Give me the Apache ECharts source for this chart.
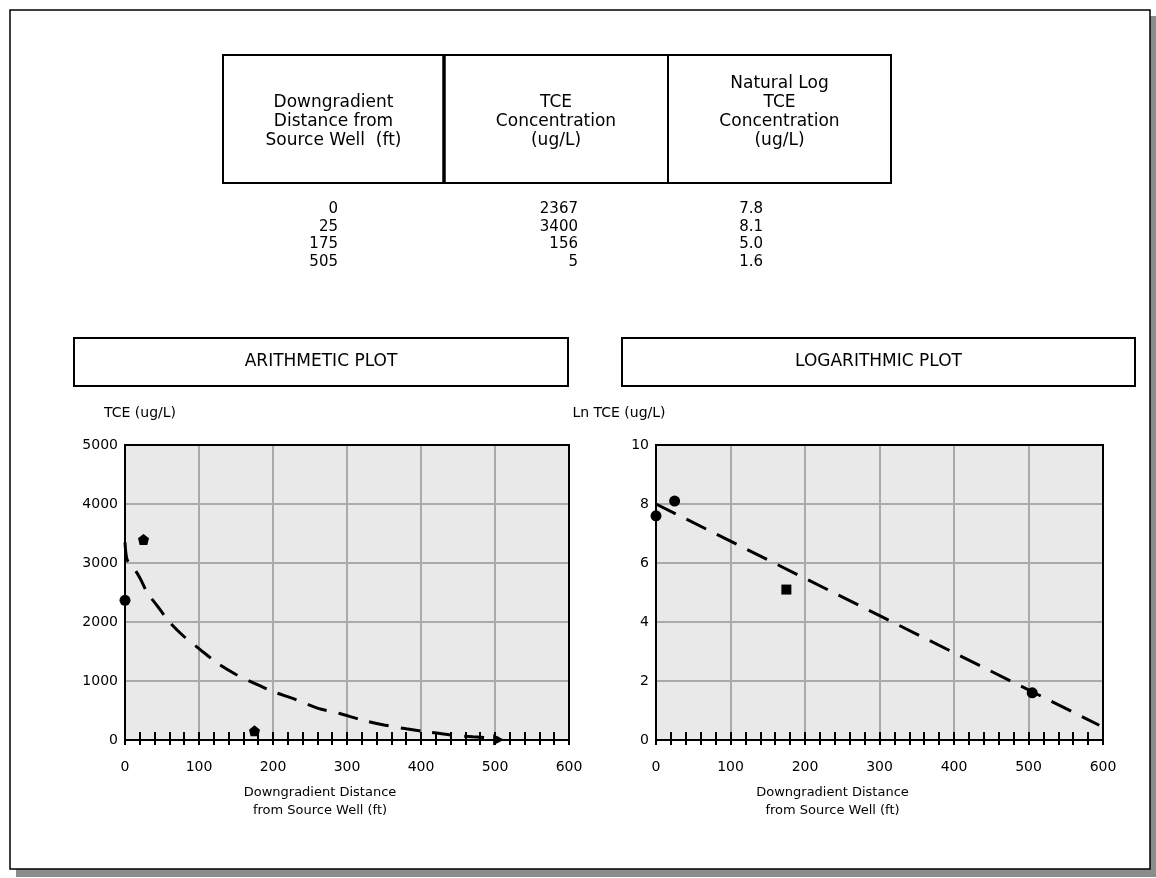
<!DOCTYPE html>
<html><head><meta charset="utf-8">
<script src="https://cdn.jsdelivr.net/npm/echarts@6/dist/echarts.min.js"></script>
<style>html,body{margin:0;padding:0;background:#fff}#c{width:1156px;height:878px}</style>
</head><body><div id="c"></div>
<script>
// ---- data ----
const distance = [0, 25, 175, 505];
const tceConc = [2367, 3400, 156, 5];
const lnTce = ['7.8', '8.1', '5.0', '1.6'];
const lnPlotted = [7.6, 8.1, 5.1, 1.6];
const header1 = ['Downgradient', 'Distance from', 'Source Well  (ft)'];
const header2 = ['TCE', 'Concentration', '(ug/L)'];
const header3 = ['Natural Log', 'TCE', 'Concentration', '(ug/L)'];
const arithFitX = [0, 3, 10, 20, 30, 45, 60, 80, 100, 125, 150, 175, 200, 230, 260, 290, 320, 350, 380, 410, 440, 470, 505];
const arithFitY = [3350, 3050, 2950, 2750, 2500, 2250, 2000, 1750, 1550, 1300, 1110, 960, 820, 690, 540, 450, 340, 255, 190, 135, 85, 55, 30];
const logFitX = [0, 595];
const logFitY = [8.0, 0.5];
const xTickLabels = ['0', '100', '200', '300', '400', '500', '600'];
const arithTitle = 'ARITHMETIC PLOT';
const logTitle = 'LOGARITHMIC PLOT';
const arithYName = 'TCE (ug/L)';
const logYName = 'Ln TCE (ug/L)';
const xName = 'Downgradient Distance\nfrom Source Well (ft)';

// ---- styles ----
const FONT = 'DejaVu Sans';
const pentagon = 'path://M5,0 L10,4 L8.5,10 L1.5,10 L0,4 Z';
const arithSymbols = ['circle', pentagon, pentagon, 'triangle'];
const arithRot = [0, 0, 0, -90];
const logSymbols = ['circle', 'circle', 'rect', 'circle'];

const chart = echarts.init(document.getElementById('c'), null, {renderer: 'canvas'});

// graphic: frame, table, title boxes
const g = [];
g.push({type: 'rect', shape: {x: 16, y: 16, width: 1140, height: 861}, style: {fill: '#8c8c8c'}, z: -20, silent: true});
g.push({type: 'rect', shape: {x: 10, y: 10, width: 1140, height: 859}, style: {fill: '#fff', stroke: '#000', lineWidth: 1.5}, z: -19, silent: true});
// table
const tX = [223, 444, 668, 891];
const tTop = 55, tBot = 183;
g.push({type: 'rect', shape: {x: tX[0], y: tTop, width: tX[3] - tX[0], height: tBot - tTop}, style: {fill: 'none', stroke: '#000', lineWidth: 2}});
g.push({type: 'line', shape: {x1: tX[1], y1: tTop, x2: tX[1], y2: tBot}, style: {stroke: '#000', lineWidth: 3.5}});
g.push({type: 'line', shape: {x1: tX[2], y1: tTop, x2: tX[2], y2: tBot}, style: {stroke: '#000', lineWidth: 2}});
function headerText(lines, cx, cy) {
  g.push({type: 'text', x: cx, y: cy, style: {text: lines.join('\n'), font: '17px "' + FONT + '"', fill: '#000', align: 'center', verticalAlign: 'middle', lineHeight: 19}});
}
headerText(header1, (tX[0] + tX[1]) / 2, 122);
headerText(header2, (tX[1] + tX[2]) / 2, 122);
headerText(header3, (tX[2] + tX[3]) / 2, 112);
const rowY0 = 209, rowDy = 17.7;
distance.forEach((d, i) => {
  const y = rowY0 + i * rowDy;
  g.push({type: 'text', x: 338, y: y, style: {text: String(d), font: '15px "' + FONT + '"', fill: '#000', align: 'right', verticalAlign: 'middle'}});
  g.push({type: 'text', x: 578, y: y, style: {text: String(tceConc[i]), font: '15px "' + FONT + '"', fill: '#000', align: 'right', verticalAlign: 'middle'}});
  g.push({type: 'text', x: 763, y: y, style: {text: lnTce[i], font: '15px "' + FONT + '"', fill: '#000', align: 'right', verticalAlign: 'middle'}});
});
// title boxes
function titleBox(x, w, txt) {
  g.push({type: 'rect', shape: {x: x, y: 338, width: w, height: 48}, style: {fill: '#fff', stroke: '#000', lineWidth: 2}});
  g.push({type: 'text', x: x + w / 2, y: 362, style: {text: txt, font: '17px "' + FONT + '"', fill: '#000', align: 'center', verticalAlign: 'middle'}});
}
titleBox(74, 494, arithTitle);
titleBox(622, 513, logTitle);

const axisLabelStyle = {color: '#000', fontFamily: FONT, fontSize: 14};
function mainX(gi, shiftPad) {
  return {
    gridIndex: gi, type: 'value', min: 0, max: 600, interval: 100, position: 'bottom',
    axisLine: {show: true, onZero: false, lineStyle: {color: '#000', width: 2}},
    axisTick: {show: true, inside: true, length: 8, lineStyle: {color: '#000', width: 2}},
    minorTick: {show: true, splitNumber: 5, length: 8, lineStyle: {color: '#000', width: 2}},
    splitLine: {show: true, lineStyle: {color: '#aaaaaa', width: 2}},
    axisLabel: Object.assign({margin: 20, formatter: v => xTickLabels[Math.round(v / 100)]}, axisLabelStyle),
    name: xName, nameLocation: 'middle', nameGap: 44,
    nameTextStyle: {color: '#000', fontFamily: FONT, fontSize: 13, lineHeight: 18, padding: [0, shiftPad, 0, 0]}
  };
}
function tickX(gi) {
  return {
    gridIndex: gi, type: 'value', min: 0, max: 600, interval: 100, position: 'bottom',
    axisLine: {show: false, onZero: false},
    axisTick: {show: true, inside: false, length: 5, lineStyle: {color: '#000', width: 2}},
    minorTick: {show: true, splitNumber: 5, length: 5, lineStyle: {color: '#000', width: 2}},
    splitLine: {show: false}, axisLabel: {show: false}
  };
}
function borderX(gi) {
  return {
    gridIndex: gi, type: 'value', min: 0, max: 600, interval: 100, position: 'top',
    axisLine: {show: true, onZero: false, lineStyle: {color: '#000', width: 2}},
    axisTick: {show: false}, splitLine: {show: false}, axisLabel: {show: false}
  };
}
function yAx(gi, max, interval, name, padL, padR) {
  return {
    gridIndex: gi, type: 'value', min: 0, max: max, interval: interval, position: 'left',
    axisLine: {show: true, onZero: false, lineStyle: {color: '#000', width: 2}},
    axisTick: {show: false},
    splitLine: {show: true, lineStyle: {color: '#aaaaaa', width: 2}},
    axisLabel: Object.assign({margin: 7, formatter: v => String(v)}, axisLabelStyle),
    name: name, nameLocation: 'end', nameGap: 32,
    nameTextStyle: {color: '#000', fontFamily: FONT, fontSize: 14, verticalAlign: 'middle', padding: [0, padR, 0, padL]}
  };
}
function borderY(gi, max, interval) {
  return {
    gridIndex: gi, type: 'value', min: 0, max: max, interval: interval, position: 'right',
    axisLine: {show: true, onZero: false, lineStyle: {color: '#000', width: 2}},
    axisTick: {show: false}, splitLine: {show: false}, axisLabel: {show: false}
  };
}

const option = {
  animation: false,
  backgroundColor: '#fff',
  graphic: {elements: g},
  grid: [
    {left: 125, top: 445, width: 444, height: 295, show: true, backgroundColor: '#e9e9e9', borderColor: '#000', borderWidth: 2, containLabel: false},
    {left: 656, top: 445, width: 447, height: 295, show: true, backgroundColor: '#e9e9e9', borderColor: '#000', borderWidth: 2, containLabel: false}
  ],
  xAxis: [mainX(0, 54), tickX(0), borderX(0), mainX(1, 94), tickX(1), borderX(1)],
  yAxis: [yAx(0, 5000, 1000, arithYName, 30, 0), borderY(0, 5000, 1000), yAx(1, 10, 2, logYName, 0, 74), borderY(1, 10, 2)],
  series: [
    {
      type: 'line', xAxisIndex: 0, yAxisIndex: 0, smooth: 0.3, showSymbol: false, silent: true,
      data: arithFitX.map((x, i) => [x, arithFitY[i]]),
      lineStyle: {color: '#000', width: 3, type: [20, 12]}, z: 3
    },
    {
      type: 'scatter', xAxisIndex: 0, yAxisIndex: 0, symbolSize: 11,
      itemStyle: {color: '#000', opacity: 1},
      data: distance.map((d, i) => ({value: [d, tceConc[i]], symbol: arithSymbols[i], symbolRotate: arithRot[i]})), z: 4
    },
    {
      type: 'line', xAxisIndex: 3, yAxisIndex: 2, showSymbol: false, silent: true,
      data: logFitX.map((x, i) => [x, logFitY[i]]),
      lineStyle: {color: '#000', width: 3, type: [22, 12]}, z: 3
    },
    {
      type: 'scatter', xAxisIndex: 3, yAxisIndex: 2, symbolSize: 11,
      itemStyle: {color: '#000', opacity: 1},
      data: distance.map((d, i) => ({value: [d, lnPlotted[i]], symbol: logSymbols[i], symbolSize: logSymbols[i] === 'rect' ? 10 : 11})), z: 4
    }
  ]
};
chart.setOption(option);
</script>
</body></html>
